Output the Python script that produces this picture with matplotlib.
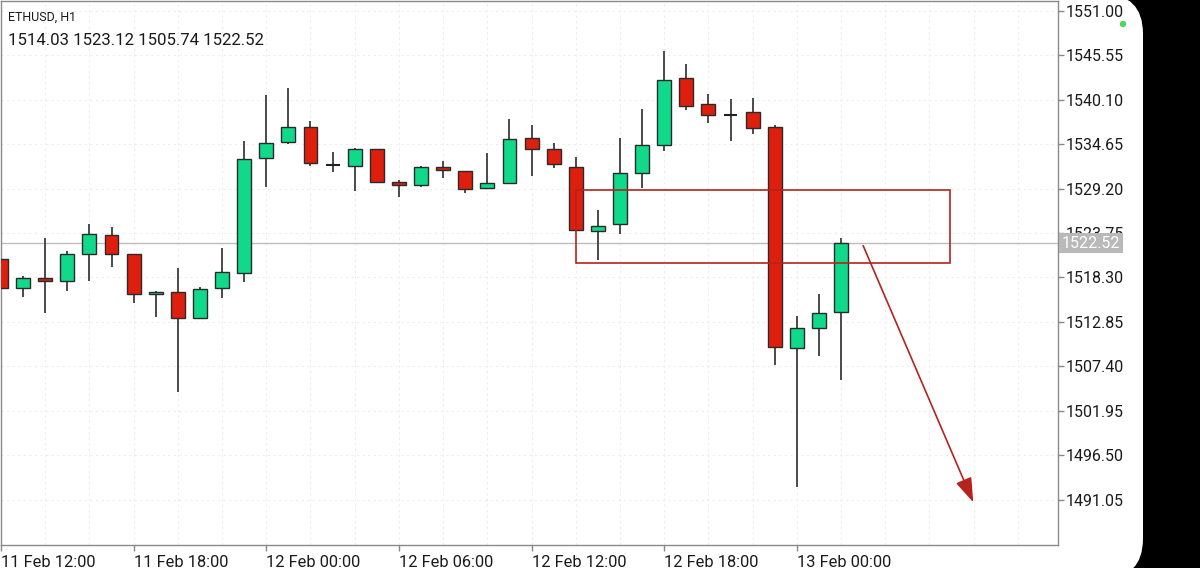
import matplotlib
matplotlib.use('Agg')
import matplotlib.pyplot as plt
from matplotlib.patches import Rectangle, FancyBboxPatch, Circle
from matplotlib.transforms import IdentityTransform, blended_transform_factory

plt.rcParams['font.family'] = ['Roboto', 'DejaVu Sans']

# ---------------- data ----------------
symbol_title = "ETHUSD, H1"
ohlc_header = "1514.03 1523.12 1505.74 1522.52"
hours = list(range(39))  # hourly bars starting 11 Feb 12:00
opens = [1520.56, 1516.96, 1518.26, 1517.90, 1521.13, 1523.50, 1521.17, 1516.23, 1516.55, 1513.32,
         1516.96, 1518.80, 1532.99, 1534.91, 1536.79, 1532.06, 1531.97, 1534.06, 1530.04, 1529.67,
         1531.85, 1531.36, 1529.27, 1529.85, 1535.40, 1534.09, 1531.88, 1524.00, 1524.82, 1531.11,
         1534.51, 1542.80, 1539.54, 1538.23, 1538.60, 1536.72, 1509.67, 1512.13, 1514.03]
highs = [1521.30, 1518.44, 1523.17, 1521.54, 1524.85, 1524.45, 1521.20, 1516.63, 1519.49, 1517.12,
         1521.91, 1535.04, 1540.68, 1541.54, 1537.53, 1533.65, 1534.21, 1534.06, 1530.25, 1531.93,
         1532.58, 1531.36, 1533.53, 1537.70, 1537.00, 1534.75, 1533.04, 1526.57, 1535.44, 1538.96,
         1546.12, 1544.52, 1540.80, 1540.15, 1540.28, 1536.96, 1513.56, 1516.26, 1523.12]
lows = [1514.71, 1515.93, 1513.97, 1516.67, 1517.90, 1519.54, 1515.20, 1513.40, 1504.28, 1513.20,
        1515.74, 1517.77, 1529.40, 1534.67, 1532.01, 1531.27, 1528.90, 1530.01, 1528.20, 1529.43,
        1530.50, 1528.62, 1529.27, 1529.72, 1530.78, 1531.72, 1524.15, 1520.44, 1523.59, 1529.23,
        1533.81, 1538.88, 1537.28, 1535.04, 1535.93, 1507.55, 1492.62, 1508.66, 1505.74]
closes = [1516.96, 1518.26, 1517.82, 1521.17, 1523.66, 1521.13, 1516.23, 1516.51, 1513.32, 1516.84,
          1518.96, 1532.83, 1534.83, 1536.79, 1532.37, 1532.06, 1534.06, 1530.01, 1529.60, 1531.85,
          1531.44, 1529.18, 1529.92, 1535.32, 1534.06, 1532.21, 1524.15, 1524.64, 1531.15, 1534.55,
          1542.56, 1539.29, 1538.23, 1538.23, 1536.60, 1509.80, 1512.13, 1513.90, 1522.52]

x_tick_pos = [0, 6, 12, 18, 24, 30, 36]
x_tick_labels = ["11 Feb 12:00", "11 Feb 18:00", "12 Feb 00:00", "12 Feb 06:00",
                 "12 Feb 12:00", "12 Feb 18:00", "13 Feb 00:00"]
y_tick_labels = ["1551.00", "1545.55", "1540.10", "1534.65", "1529.20", "1523.75",
                 "1518.30", "1512.85", "1507.40", "1501.95", "1496.50", "1491.05"]
y_ticks = [float(s) for s in y_tick_labels]
last_price = 1522.52

zone_x = (26, 42.92)
zone_price = (1520.03, 1529.06)
arrow_start = (39.0, 1522.19)
arrow_end = (43.98, 1490.71)

# ---------------- styles ----------------
GREEN = '#10d98a'
RED = '#de1f0e'
EDGE = '#2a2a2a'
WICK = '#4a4a4a'
ZONE = '#b5231d'

W, H = 1200, 568
fig = plt.figure(figsize=(W / 100, H / 100), dpi=100)
fig.patch.set_facecolor('black')

bg = FancyBboxPatch((-200, -10.5), 1343, 584.5,
                    boxstyle="round,pad=0,rounding_size=40",
                    transform=IdentityTransform(), facecolor='white',
                    edgecolor='none', zorder=0)
fig.add_artist(bg)

ax = fig.add_axes([1 / W, 23 / H, 1056.5 / W, 544 / H])
ax.set_zorder(1)
ax.set_facecolor('white')

ax.set_xlim(0.005, 47.79)
ax.set_ylim(1485.47, 1552.21)

# grid
ax.set_xticks(x_tick_pos)
ax.set_xticks(list(range(0, 48, 2)), minor=True)
ax.set_yticks(y_ticks)
ax.set_xticklabels(x_tick_labels, ha='left')
ax.set_yticklabels(y_tick_labels)
ax.yaxis.tick_right()
ax.grid(True, which='both', linestyle=(0, (2, 3)), color='#ededed', linewidth=0.8, zorder=0)
ax.set_axisbelow(True)
ax.tick_params(axis='x', which='major', length=4, width=1, color='#888888', pad=3,
               labelsize=11.8, labelcolor='#1a1a1a')
ax.tick_params(axis='x', which='minor', length=0)
ax.tick_params(axis='y', length=4, width=1, color='#888888', pad=2,
               labelsize=11.5, labelcolor='#1a1a1a')
for s in ax.spines.values():
    s.set_color('#8a8a8a')
    s.set_linewidth(1)

# last price line
ax.axhline(last_price, color='#bdbdbd', lw=1, zorder=1)

# candles
bw = 0.63
for h, o, hi, lo, c in zip(hours, opens, highs, lows, closes):
    ax.vlines(h, lo, hi, color=WICK, lw=1.4, zorder=2)
    if abs(c - o) < 1e-9:
        ax.hlines(o, h - bw / 2, h + bw / 2, color='#222222', lw=1.5, zorder=3)
    else:
        col = GREEN if c > o else RED
        ax.add_patch(Rectangle((h - bw / 2, min(o, c)), bw, abs(c - o),
                               facecolor=col, edgecolor=EDGE, lw=1.0, zorder=3))

# zone rectangle
ax.add_patch(Rectangle((zone_x[0], zone_price[0]), zone_x[1] - zone_x[0],
                       zone_price[1] - zone_price[0], facecolor='none',
                       edgecolor=ZONE, lw=1.2, zorder=4))

# arrow
ax.annotate('', xy=arrow_end, xytext=arrow_start,
            arrowprops=dict(arrowstyle='-|>,head_length=0.5,head_width=0.17',
                            mutation_scale=30, color=ZONE, lw=1.2,
                            shrinkA=0, shrinkB=0), zorder=5)

# header text
ax.text(0.0066, 0.9706, symbol_title, transform=ax.transAxes, fontsize=9.0,
        color='#1a1a1a', va='center', ha='left')
ax.text(0.0066, 0.9265, ohlc_header, transform=ax.transAxes, fontsize=12.1,
        color='#1a1a1a', va='center', ha='left')

# last price label on axis (covers the neighbouring tick label, as in the original)
tr = blended_transform_factory(ax.transAxes, ax.transData)
ax.text(1.0038, last_price, "1522.52", transform=tr, fontsize=11.5, color='white',
        va='center', ha='left', clip_on=False, zorder=10,
        bbox=dict(boxstyle='square,pad=0.18', facecolor='#b9b9b9', edgecolor='none'))

# status dot
fig.add_artist(Circle((1123, H - 24), 3.2, transform=IdentityTransform(),
                      facecolor='#45d957', edgecolor='none', zorder=5))

fig.savefig('out.png', dpi=100, facecolor=fig.get_facecolor())
